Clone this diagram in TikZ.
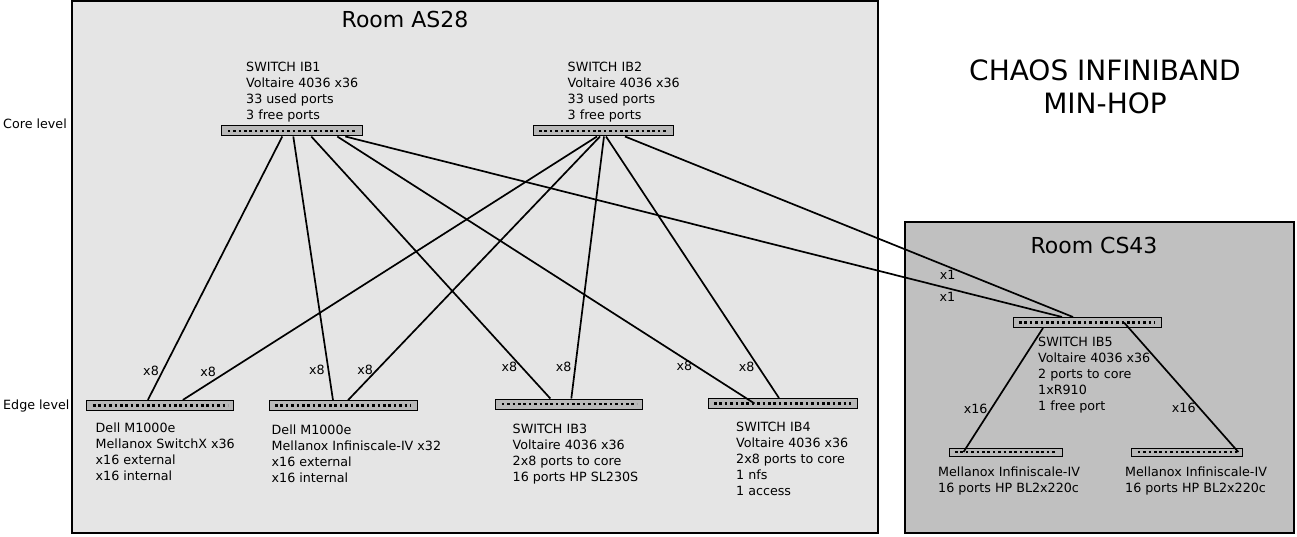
\documentclass[tikz,border=0pt]{standalone}
\usepackage{fontspec}
\setmainfont{DejaVu Sans}
\usetikzlibrary{positioning}
\definecolor{roomas}{HTML}{E5E5E5}
\definecolor{roomcs}{HTML}{C0C0C0}
\definecolor{barfill}{HTML}{B8B8B8}

\tikzset{
  room/.style={draw, line width=1.6pt},
  bar/.style={draw, line width=1pt, fill=barfill, minimum height=10pt, inner sep=0pt,
    path picture={\draw[line width=2.6pt, dash pattern=on 2.6pt off 2.8pt]
      ([xshift=6pt]path picture bounding box.west) -- ([xshift=-6pt]path picture bounding box.east);}},
  info/.style={font=\fontsize{12.7}{16}\selectfont, align=left, anchor=base west, inner sep=0pt},
  title/.style={font=\fontsize{22}{26}\selectfont, anchor=base, inner sep=0pt},
  link/.style={line width=1.7pt},
  mult/.style={font=\fontsize{12.7}{16}\selectfont, inner sep=3pt}
}

\begin{document}
\begin{tikzpicture}[x=1pt, y=-1pt]
\useasboundingbox (0,0) rectangle (1297,537);

% rooms
\draw[room, fill=roomas] (72,1) rectangle (878,533);
\draw[room, fill=roomcs] (905,222) rectangle (1294,533);
\node[title] (as28) at (405,28) {Room AS28};
\node[title] (cs43) at (1094,254) {Room CS43};
\node[font=\fontsize{28}{33}\selectfont, align=center, anchor=base, inner sep=0pt] (chaos) at (1105,114) {CHAOS INFINIBAND\\MIN-HOP};

\node[info] (core) at (3,129) {Core level};
\node[info] (edge) at (3,409) {Edge level};

% switches
\node[bar, minimum width=141pt] (ib1) at (292.3,131) {};
\node[bar, minimum width=140pt] (ib2) at (603,131) {};
\node[bar, minimum width=147pt] (e1) at (160.4,405.4) {};
\node[bar, minimum width=148pt] (e2) at (343,405.7) {};
\node[bar, minimum width=147pt] (ib3) at (569.3,404) {};
\node[bar, minimum width=149pt] (ib4) at (782.5,403.5) {};
\node[bar, minimum width=148pt] (ib5) at (1087,322.5) {};
\node[bar, minimum width=113pt, minimum height=8pt] (m1) at (1005.5,452) {};
\node[bar, minimum width=111pt, minimum height=8pt] (m2) at (1187.3,452) {};

% links core -> edge
\draw[link] ([xshift=-10pt]ib1.south) -- node[mult, pos=0.89, left] {x8} ([xshift=-12.5pt]e1.north);
\draw[link] ([xshift=1pt]ib1.south) -- node[mult, pos=0.886, left] {x8} ([xshift=-10pt]e2.north);
\draw[link] ([xshift=19pt]ib1.south) -- node[mult, pos=0.878, left] {x8} ([xshift=-19pt]ib3.north);
\draw[link] ([xshift=45pt]ib1.south) -- node[mult, pos=0.86, left] {x8} ([xshift=-28pt]ib4.center);
\draw[link] ([xshift=53pt]ib1.south) -- node[mult, pos=0.84, below] {x1} ([xshift=-25pt]ib5.north);

\draw[link] ([xshift=-6pt]ib2.south) -- node[mult, pos=0.894, left=7pt] {x8} ([xshift=22.5pt]e1.north);
\draw[link] ([xshift=-3pt]ib2.south) -- node[mult, pos=0.886, left] {x8} ([xshift=5pt]e2.north);
\draw[link] ([xshift=1pt]ib2.south) -- node[mult, pos=0.878, left] {x8} ([xshift=2pt]ib3.north);
\draw[link] ([xshift=3pt]ib2.south) -- node[mult, pos=0.88, left] {x8} ([xshift=-3.5pt]ib4.north);
\draw[link] ([xshift=22pt]ib2.south) -- node[mult, pos=0.72, below] {x1} ([xshift=-14pt]ib5.north);

% links in CS43
\draw[link] ([xshift=-44pt]ib5.south) -- node[mult, pos=0.65, left] {x16} ([xshift=-42pt]m1.center);
\draw[link] ([xshift=37pt]ib5.center) -- node[mult, pos=0.66, left] {x16} ([xshift=51pt]m2.center);

% descriptions (base = last line)
\node[info] (ib1txt) at (246,120) {SWITCH IB1\\Voltaire 4036 x36\\33 used ports\\3 free ports};
\node[info] (ib2txt) at (567.5,120) {SWITCH IB2\\Voltaire 4036 x36\\33 used ports\\3 free ports};
\node[info] (e1txt) at (95.5,480) {Dell M1000e\\Mellanox SwitchX x36\\x16 external\\x16 internal};
\node[info] (e2txt) at (271.5,482) {Dell M1000e\\Mellanox Infiniscale-IV x32\\x16 external\\x16 internal};
\node[info] (ib3txt) at (512.5,481) {SWITCH IB3\\Voltaire 4036 x36\\2x8 ports to core\\16 ports HP SL230S};
\node[info] (ib4txt) at (736,495) {SWITCH IB4\\Voltaire 4036 x36\\2x8 ports to core\\1 nfs\\1 access};
\node[info] (ib5txt) at (1038,410) {SWITCH IB5\\Voltaire 4036 x36\\2 ports to core\\1xR910\\1 free port};
\node[info] (m1txt) at (938,492.5) {Mellanox Infiniscale-IV\\16 ports HP BL2x220c};
\node[info] (m2txt) at (1125,492.5) {Mellanox Infiniscale-IV\\16 ports HP BL2x220c};
\end{tikzpicture}
\end{document}
